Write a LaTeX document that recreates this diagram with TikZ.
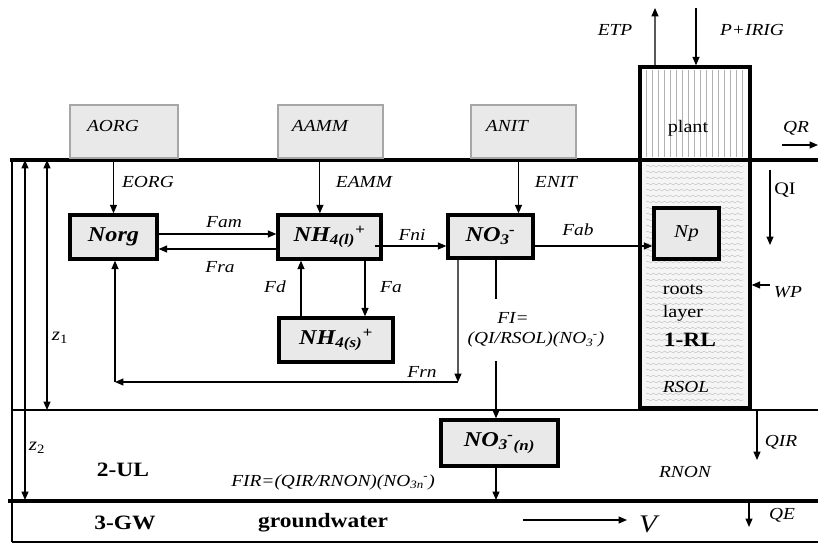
\documentclass[tikz,border=0pt]{standalone}
\usepackage{fontspec}
\setmainfont{Liberation Serif}[FakeStretch=1.15]
\usepackage{tikz}
\usetikzlibrary{arrows.meta, decorations.pathmorphing}

% ion with index and charge
\newcommand{\ion}[2]{\textsubscript{#1}\kern-0.5pt\textsuperscript{#2}}

\begin{document}
\begin{tikzpicture}[x=0.025cm, y=-0.025cm,
  flow/.style={-{Triangle[length=6pt,width=5pt]}, line width=0.8pt},
  dim/.style={{Triangle[length=6pt,width=5pt]}-{Triangle[length=6pt,width=5pt]}, line width=0.8pt},
  src/.style={draw=gray!70, line width=0.8pt, fill=gray!17, inner sep=0pt},
  pool/.style={draw, line width=2.4pt, fill=gray!17, inner sep=0pt,
    font=\fontsize{15}{17}\selectfont\bfseries\itshape},
  lbl/.style={font=\fontsize{12}{14}\selectfont\itshape, inner sep=1pt},
  rom/.style={font=\fontsize{12.5}{16.4}\selectfont, inner sep=1pt},
  laylbl/.style={font=\fontsize{14.5}{17}\selectfont\bfseries, inner sep=1pt}]
  \useasboundingbox (0,0) rectangle (818,544);

  % Plant (vertical hatching) and roots layer (waves)
  \foreach \x in {646,652,...,744}
    \draw[gray!60, line width=0.5pt] (\x,70) -- (\x,157);
  \node[draw, line width=2.4pt, minimum width=2.75cm, minimum height=2.325cm, inner sep=0pt] (plant) at (695,113.5) {};
  \node[draw, line width=2.4pt, fill=gray!8, minimum width=2.75cm, minimum height=6.2cm, inner sep=0pt] (rl) at (695,284) {};
  \foreach \y in {166,172,...,402}
    \draw[gray!50, line width=0.3pt, decorate, decoration={snake, amplitude=0.6pt, segment length=4pt}] (646,\y) -- (744,\y);

  % Soil layers
  \draw[line width=2.8pt] (10,160) -- (818,160);
  \draw[line width=2pt] (12,410) -- (818,410);
  \draw[line width=2.6pt] (8,501) -- (818,501);
  \draw[line width=1.5pt] (12,542) -- (818,542);
  \draw[line width=1.2pt] (12,160) -- (12,542);
  \coordinate (gwline) at (0,500);

  % Surface inputs
  \node[src, minimum width=2.7cm, minimum height=1.325cm] (aorg) at (124,131.5) {};
  \node[src, minimum width=2.625cm, minimum height=1.325cm] (aamm) at (330.5,131.5) {};
  \node[src, minimum width=2.625cm, minimum height=1.325cm] (anit) at (523.5,131.5) {};
  \node[lbl] (aorglbl) at (113,126) {AORG};
  \node[lbl] (aammlbl) at (320,126) {AAMM};
  \node[lbl] (anitlbl) at (507,126) {ANIT};
  \node[rom] (plantlbl) at (688,128) {plant};

  % Nitrogen pools
  \node[pool, minimum width=2.175cm, minimum height=1.1cm] (norg) at (113.5,237) {Norg};
  \node[pool, minimum width=2.575cm, minimum height=1.1cm] (nhl) at (329.5,237) {NH\textsubscript{4(l)}\textsuperscript{+}};
  \node[pool, minimum width=2.85cm, minimum height=1.1cm] (nhs) at (336,340) {NH\textsubscript{4(s)}\textsuperscript{+}};
  \node[pool, minimum width=2.125cm, minimum height=1.075cm] (no3) at (490.5,236.5) {NO\ion{3}{-}};
  \node[pool, font=\fontsize{13}{15}\selectfont\itshape, minimum width=1.625cm, minimum height=1.275cm] (np) at (686.5,233.5) {Np};
  \node[pool, minimum width=2.925cm, minimum height=1.15cm] (no3n) at (499.5,443) {NO\ion{3}{-}\textsubscript{(n)}};

  % Inputs into the pools
  \draw[flow] (norg.north |- aorg.south) -- (norg.north);
  \coordinate (eamm) at ([xshift=-0.24cm]nhl.north);
  \draw[flow] (eamm |- aamm.south) -- (eamm);
  \coordinate (enit) at ([xshift=0.7cm]no3.north);
  \draw[flow] (enit |- anit.south) -- (enit);
  \node[lbl] (eorglbl) at (148,182) {EORG};
  \node[lbl] (eammlbl) at (364,182) {EAMM};
  \node[lbl] (enitlbl) at (556,182) {ENIT};

  % Transformations
  \coordinate (fam) at ([yshift=0.075cm]norg.east);
  \draw[flow] (fam) -- (fam -| nhl.west);
  \coordinate (fra) at ([yshift=-0.3cm]nhl.west);
  \draw[flow] (fra) -- (fra -| norg.east);
  \coordinate (fni) at ([xshift=-0.2cm,yshift=-0.225cm]nhl.east);
  \draw[flow] (fni) -- (fni -| no3.west);
  \coordinate (fab) at ([yshift=-0.2375cm]no3.east);
  \draw[flow] (fab) -- (fab -| np.west);
  \coordinate (fd) at ([xshift=-0.875cm]nhs.north);
  \draw[flow] (fd) -- (fd |- nhl.south);
  \coordinate (fa) at ([xshift=0.8875cm]nhl.south);
  \draw[flow] (fa) -- (fa |- nhs.north);
  \node[lbl] (famlbl) at (224,222) {Fam};
  \node[lbl] (fralbl) at (220,267) {Fra};
  \node[lbl] (fnilbl) at (412,235) {Fni};
  \node[lbl] (fablbl) at (578,230) {Fab};
  \node[lbl] (fdlbl) at (275,287) {Fd};
  \node[lbl] (falbl) at (391,287) {Fa};

  % Reorganisation back to Norg
  \coordinate (frn) at ([xshift=-0.8125cm]no3.south);
  \coordinate (frnc) at (458,382);
  \coordinate (frnl) at (115,382);
  \draw[flow] (frn) -- (frnc);
  \draw[flow] (frnc) -- (frnl);
  \draw[flow] (frnl) -- (frnl |- norg.south);
  \node[lbl] (frnlbl) at (422,372) {Frn};

  % Leaching
  \coordinate (fi) at ([xshift=0.1375cm]no3.south);
  \draw[flow] (fi) -- (fi |- no3n.north);
  \node[lbl, fill=white, align=left, inner xsep=1pt, inner ysep=10pt] (filbl) at (536,330)
    {\hspace*{21pt}FI=\\(QI/RSOL)(NO\ion{3}{-})};
  \coordinate (fir) at ([xshift=-0.0875cm]no3n.south);
  \draw[flow] (fir) -- (fir |- gwline);
  \node[lbl] (firlbl) at (333,482) {FIR=(QIR/RNON)(NO\ion{3n}{-})};

  % Water fluxes
  \coordinate (etp) at ([xshift=-1cm]plant.north);
  \coordinate (etpt) at (655,8);
  \draw[flow] (etp) -- (etpt);
  \coordinate (pin) at (696,8);
  \draw[flow] (pin) -- (pin |- plant.north);
  \node[lbl] (etplbl) at (615,30) {ETP};
  \node[lbl] (piriglbl) at (752,30) {P+IRIG};
  \coordinate (qrs) at (782,145);
  \coordinate (qre) at (818,145);
  \draw[flow] (qrs) -- (qre);
  \node[lbl] (qrlbl) at (796,128) {QR};
  \coordinate (qis) at (770,170);
  \coordinate (qie) at (770,245);
  \draw[flow] (qis) -- (qie);
  \node[rom] (qilbl) at (785,190) {QI};
  \coordinate (wp) at (770,285);
  \draw[flow] (wp) -- (wp -| rl.east);
  \node[lbl] (wplbl) at (788,292) {WP};
  \coordinate (qirs) at (757,410);
  \coordinate (qire) at (757,460);
  \draw[flow] (qirs) -- (qire);
  \node[lbl] (qirlbl) at (781,442) {QIR};
  \coordinate (qes) at (749,503);
  \coordinate (qee) at (749,527);
  \draw[flow] (qes) -- (qee);
  \node[lbl] (qelbl) at (782,515) {QE};
  \coordinate (vs) at (523,520);
  \coordinate (ve) at (627,520);
  \draw[flow] (vs) -- (ve);
  \node[lbl, font=\fontsize{18}{20}\selectfont\itshape] (vlbl) at (648,524) {V};

  % Depths
  \coordinate (z1t) at (47,160);
  \coordinate (z1b) at (47,410);
  \draw[dim] (z1t) -- (z1b);
  \coordinate (z2t) at (25,160);
  \coordinate (z2b) at (25,500);
  \draw[dim] (z2t) -- (z2b);
  \node[lbl, font=\fontsize{13}{15}\selectfont\itshape] (z1lbl) at (60,338) {z\textsubscript{\upshape 1}};
  \node[lbl, font=\fontsize{13}{15}\selectfont\itshape] (z2lbl) at (37,448) {z\textsubscript{\upshape 2}};

  % Layer names
  \node[rom, align=left] (rootslbl) at (683,303) {roots\\layer};
  \node[laylbl] (rllbl) at (690,340) {1-RL};
  \node[lbl] (rsollbl) at (686,387) {RSOL};
  \node[laylbl] (ullbl) at (123,470) {2-UL};
  \node[lbl] (rnonlbl) at (685,472) {RNON};
  \node[laylbl] (gwlbl) at (125,523) {3-GW};
  \node[laylbl] (gwname) at (323,523) {groundwater};
\end{tikzpicture}
\end{document}
